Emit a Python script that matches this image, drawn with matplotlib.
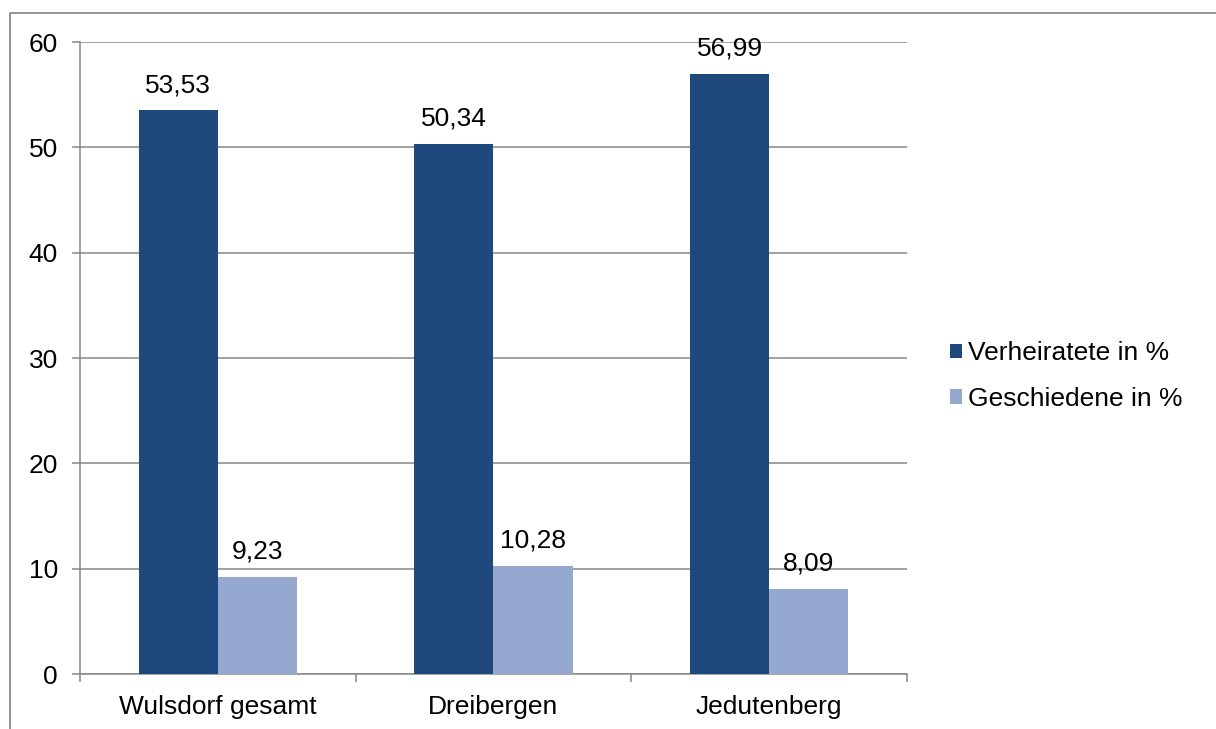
import matplotlib
matplotlib.use("Agg")
import matplotlib.pyplot as plt
from matplotlib.lines import Line2D
from matplotlib.patches import Patch
import numpy as np

plt.rcParams['font.family'] = ['Liberation Sans', 'DejaVu Sans']

categories = ["Wulsdorf gesamt", "Dreibergen", "Jedutenberg"]
verheiratete = [53.53, 50.34, 56.99]
geschiedene = [9.23, 10.28, 8.09]
series_names = ["Verheiratete in %", "Geschiedene in %"]
y_ticks = [0, 10, 20, 30, 40, 50, 60]

dark = "#1F497D"
light = "#95A9D0"
grid_c = "#878787"
fs = 19

fig = plt.figure(figsize=(12.16, 7.29), dpi=100)
ax = fig.add_axes([80/1216, 1-674/729, (907-80)/1216, (674-42)/729])

x = np.arange(len(categories))
w = 0.287
b1 = ax.bar(x - w/2, verheiratete, w, color=dark, zorder=3)
b2 = ax.bar(x + w/2, geschiedene, w, color=light, zorder=3)

def fmt(v):
    return f"{v:.2f}".replace(".", ",")

for bars, vals in ((b1, verheiratete), (b2, geschiedene)):
    for r, v in zip(bars, vals):
        ax.annotate(fmt(v), (r.get_x() + r.get_width()/2, v),
                    xytext=(0, 18), textcoords="offset points",
                    ha="center", va="center", fontsize=fs, color="black")

ax.set_xlim(-0.5, len(categories) - 0.5)
ax.set_ylim(0, 60)
ax.set_yticks(y_ticks)
ax.set_yticklabels([str(t) for t in y_ticks], fontsize=fs)
ax.yaxis.grid(True, color=grid_c, linewidth=1.1, zorder=0)
ax.set_axisbelow(True)

ax.set_xticks(x)
ax.set_xticklabels(categories, fontsize=fs)
ax.tick_params(axis='x', which='major', length=0, pad=15)
ax.set_xticks(np.arange(-0.5, len(categories), 1.0), minor=True)
ax.tick_params(axis='x', which='minor', length=6, width=1.1, color=grid_c, direction='out')
ax.tick_params(axis='y', length=6, width=1.1, color=grid_c, pad=10)

for s in ("top", "right"):
    ax.spines[s].set_visible(False)
for s in ("left", "bottom"):
    ax.spines[s].set_color(grid_c)
    ax.spines[s].set_linewidth(1.1)

handles = [Patch(facecolor=dark), Patch(facecolor=light)]
fig.legend(handles, series_names, loc="center left",
           bbox_to_anchor=(937/1216, 1-376/729), frameon=False,
           fontsize=fs, handlelength=0.46, handleheight=0.46,
           handletextpad=0.2, labelspacing=0.82, borderpad=0)

# outer frame
fig.add_artist(Line2D([10/1216, 10/1216, 1.0], [0.0, 1-13/729, 1-13/729],
                      transform=fig.transFigure, color="#8c8c8c", linewidth=1.3))

fig.savefig("out.png", dpi=100)
